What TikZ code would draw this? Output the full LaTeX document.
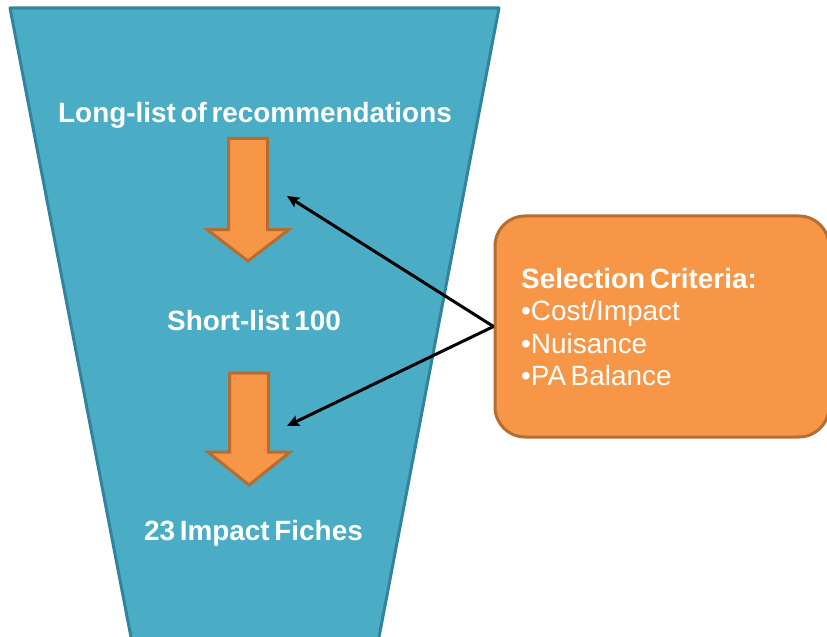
\documentclass[tikz,border=0pt]{standalone}
\usepackage{fontspec}
\setmainfont[WordSpace=0.6]{Liberation Sans}
\usetikzlibrary{arrows.meta}
\definecolor{funnelfill}{HTML}{4BACC6}
\definecolor{funneledge}{HTML}{31849B}
\definecolor{orangefill}{HTML}{F79646}
\definecolor{orangeedge}{HTML}{B66D31}
\tikzset{
  stagetext/.style={text=white, font=\fontsize{28}{30}\selectfont\bfseries, anchor=base, inner sep=0pt},
  criteriatext/.style={text=white, font=\fontsize{28}{30}\selectfont, anchor=base west, inner sep=0pt},
  blockarrow/.style={fill=orangefill, draw=orangeedge, line width=3bp, line join=miter},
  pointer/.style={draw=black, line width=3bp, -{Stealth[length=12bp,width=11bp,inset=2bp]}},
}
\begin{document}
\begin{tikzpicture}[x=1bp,y=-1bp]
  \useasboundingbox (0,0) rectangle (827,637);
  \clip (0,0) rectangle (827,637);

  % funnel
  \draw[fill=funnelfill, draw=funneledge, line width=3bp, line join=round]
    (10,8) -- (499,8) -- (377.5,645) -- (132.5,645) -- cycle;

  % stage arrows
  \draw[blockarrow] (228.5,138.5) -- (267.5,138.5) -- (267.5,229.5) -- (289,229.5)
    -- (248,261) -- (207,229.5) -- (228.5,229.5) -- cycle;
  \draw[blockarrow] (229.5,373) -- (268.5,373) -- (268.5,452) -- (290,452)
    -- (249,485) -- (208,452) -- (229.5,452) -- cycle;

  % stage labels
  \node[stagetext] (long) at (255,123) {Long-list of recommendations};
  \node[stagetext] (short) at (254,330) {Short-list 100};
  \node[stagetext] (fiches) at (253.5,540) {23 Impact Fiches};

  % criteria box
  \node[draw=orangeedge, fill=orangefill, line width=3bp, rounded corners=30bp,
        minimum width=334bp, minimum height=221bp, inner sep=0pt]
        (criteria) at (662,326.5) {};
  \node[criteriatext, font=\fontsize{28}{30}\selectfont\bfseries] (crittitle) at (521,288) {Selection Criteria:};
  \node[criteriatext] (c1) at (521,320.5) {•Cost/Impact};
  \node[criteriatext] (c2) at (521,353) {•Nuisance};
  \node[criteriatext] (c3) at (521,385.5) {•PA Balance};

  % pointers from the criteria box
  \coordinate (t1) at (287,196);
  \coordinate (t2) at (287,426);
  \draw[pointer] (criteria.west) -- (t1);
  \draw[pointer] (criteria.west) -- (t2);
\end{tikzpicture}
\end{document}
